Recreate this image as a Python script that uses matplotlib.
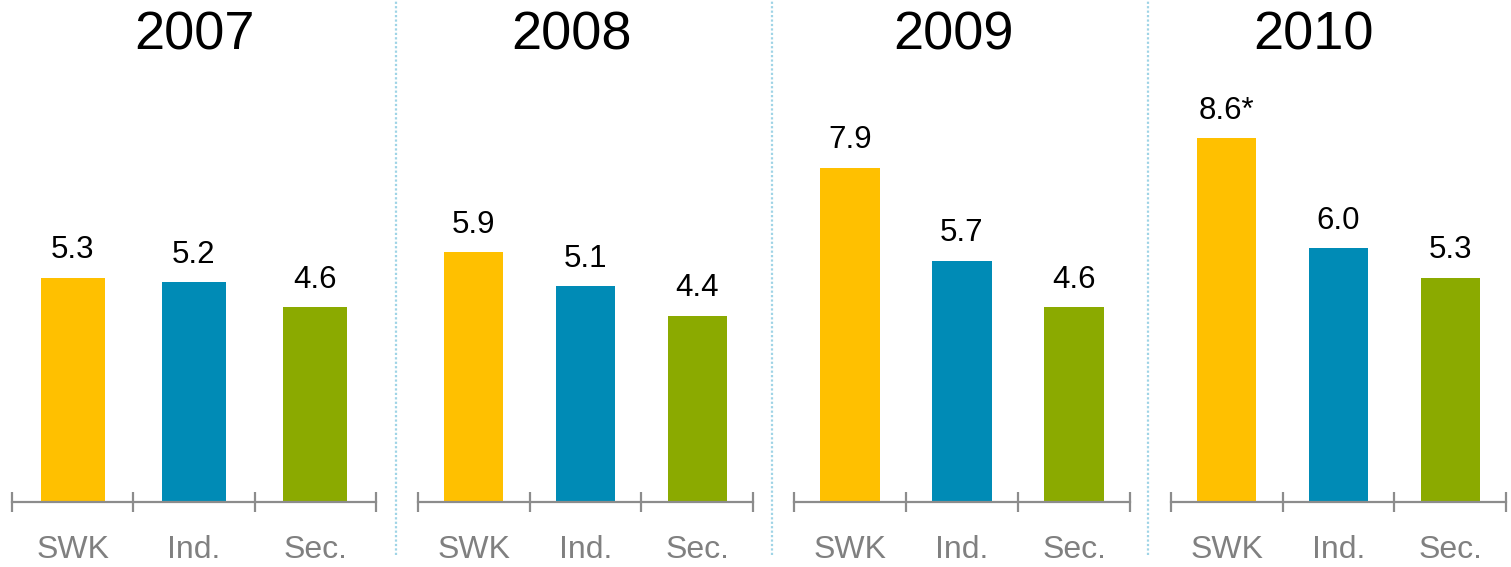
import matplotlib.pyplot as plt
from matplotlib.lines import Line2D

plt.rcParams['font.family'] = ['Liberation Sans', 'DejaVu Sans']

years = ['2007', '2008', '2009', '2010']
categories = ['SWK', 'Ind.', 'Sec.']
values = [
    [5.3, 5.2, 4.6],
    [5.9, 5.1, 4.4],
    [7.9, 5.7, 4.6],
    [8.6, 6.0, 5.3],
]
value_labels = [
    ['5.3', '5.2', '4.6'],
    ['5.9', '5.1', '4.4'],
    ['7.9', '5.7', '4.6'],
    ['8.6*', '6.0', '5.3'],
]
colors = ['#FFC000', '#008BB6', '#8BAA00']

W, H = 1511, 567
fig = plt.figure(figsize=(W / 100, H / 100), dpi=100)

# panel extents in pixels (left, right of the axis line) and title centres
panels = [(12, 376), (418, 753), (794, 1130), (1171, 1506)]
title_x = [195, 571, 953, 1313]
base_y = 502
top_y = 79
ymax = 10.0

for i, (x0, x1) in enumerate(panels):
    ax = fig.add_axes([x0 / W, (H - base_y) / H, (x1 - x0) / W, (base_y - top_y) / H])
    ax.set_xlim(-0.5, 2.5)
    ax.set_ylim(0, ymax)
    xs = range(len(categories))
    ax.bar(xs, values[i], width=0.53, color=colors)
    for x, v, lab in zip(xs, values[i], value_labels[i]):
        ax.annotate(lab, (x, v), xytext=(0, 9), textcoords='offset points',
                    ha='center', va='bottom', fontsize=22.5, color='black')
    for s in ['top', 'left', 'right']:
        ax.spines[s].set_visible(False)
    ax.spines['bottom'].set_color('#8c8c8c')
    ax.spines['bottom'].set_linewidth(1.6)
    ax.set_yticks([])
    ax.set_xticks([-0.5, 0.5, 1.5, 2.5])
    ax.set_xticklabels([])
    ax.tick_params(axis='x', which='major', direction='inout', length=15,
                   width=1.6, color='#8c8c8c')
    ax.set_xticks(list(xs), minor=True)
    ax.set_xticklabels(categories, minor=True)
    ax.tick_params(axis='x', which='minor', length=0, pad=24,
                   labelsize=23, labelcolor='#808080')
    fig.text(title_x[i] / W, 1 - 35 / H, years[i], ha='center', va='center',
             fontsize=39, color='black')

# dotted separators between panels
for sx in [396, 772, 1148]:
    fig.add_artist(Line2D([sx / W, sx / W], [1 - 555 / H, 1.0], transform=fig.transFigure,
                          color='#9fd4e6', linestyle=(0, (1, 1)), linewidth=1.6))

fig.savefig('out.png', dpi=100)
